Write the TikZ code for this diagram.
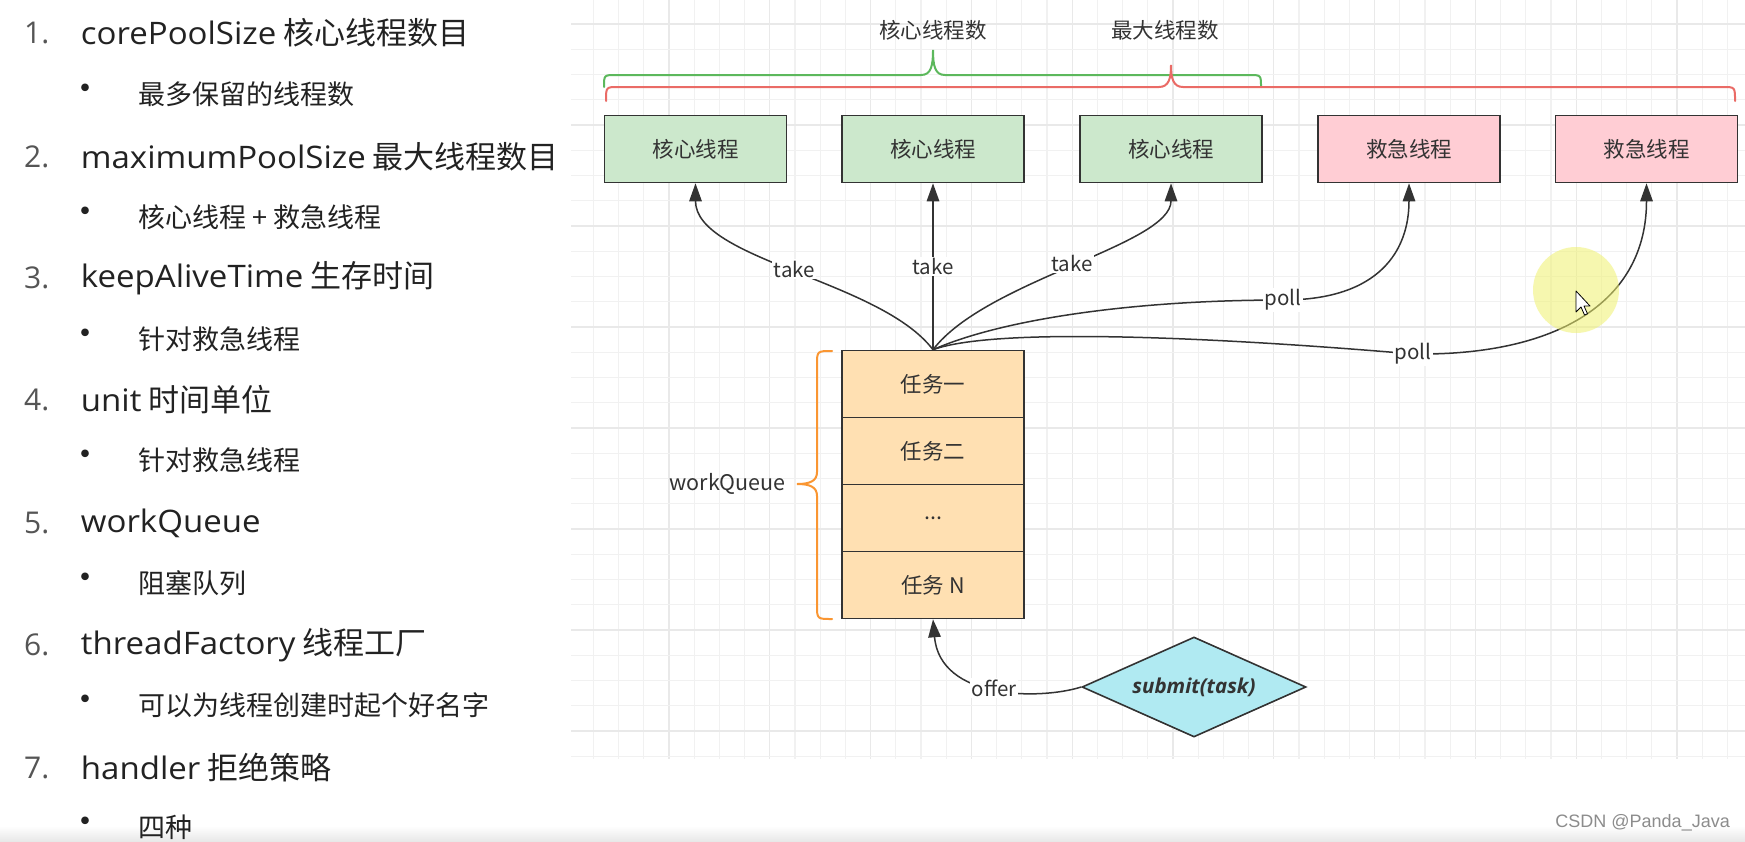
\documentclass[tikz,border=0pt]{standalone}
\usepackage{fontspec}
\setmainfont{Noto Sans CJK SC}
\newfontfamily\subfont{Open Sans}
\newfontfamily\latf[FakeStretch=1.065]{Open Sans}
\newfontfamily\wmfont{Liberation Sans}
\usetikzlibrary{shapes.geometric,arrows.meta}
\definecolor{txt}{HTML}{333333}
\definecolor{listtxt}{HTML}{222222}
\definecolor{numtxt}{HTML}{555555}
\definecolor{strokec}{HTML}{333333}
\definecolor{greenfill}{RGB}{204,232,204}
\definecolor{pinkfill}{RGB}{255,205,212}
\definecolor{orangefill}{RGB}{255,224,178}
\definecolor{cyanfill}{RGB}{176,234,242}
\definecolor{gridminor}{HTML}{F1F1F1}
\definecolor{gridmajor}{HTML}{E9E9E9}
\definecolor{bracegreen}{RGB}{92,184,92}
\definecolor{bracered}{RGB}{234,107,102}
\definecolor{braceorange}{RGB}{250,150,50}
\definecolor{hilite}{RGB}{240,242,110}
\tikzset{
  gbox/.style={draw=strokec,line width=1.6pt,fill=greenfill,minimum width=182pt,minimum height=67pt,inner sep=0pt,text=txt,font=\fontsize{21.5}{24}\selectfont},
  pbox/.style={gbox,fill=pinkfill},
  qcell/.style={gbox,fill=orangefill},
  edge/.style={draw=strokec,line width=1.5pt,-{Triangle[length=18pt,width=12.5pt]}},
  elab/.style={fill=white,inner sep=1.5pt,text=txt,font=\fontsize{20.5}{22}\selectfont},
  blab/.style={text=txt,font=\fontsize{21.5}{24}\selectfont,inner sep=0pt},
  numtext/.style={anchor=west,text=numtxt,font=\subfont\fontsize{30}{34}\selectfont,inner sep=0pt},
  maintext/.style={anchor=west,text=listtxt,font=\fontsize{31}{34}\selectfont,inner sep=0pt},
  bullettext/.style={text=listtxt,font=\fontsize{36}{38}\selectfont,inner sep=0pt},
  subtext/.style={anchor=west,text=listtxt,font=\fontsize{27}{30}\selectfont,inner sep=0pt},
  brace/.style={line width=2pt,line cap=round}
}
\begin{document}
\begin{tikzpicture}[x=1pt,y=-1pt]
\useasboundingbox (0,0) rectangle (1745,841);
\fill[white] (0,0) rectangle (1745,841);
% grid
\foreach \k in {0,...,45}{
  \pgfmathsetmacro\xx{593.4+25.2*\k}
  \pgfmathtruncatemacro\m{mod(\k+1,4)}
  \ifnum\m=0
    \draw[gridmajor,line width=1.3pt] (\xx,0) -- (\xx,759);
  \else
    \draw[gridminor,line width=1.3pt] (\xx,0) -- (\xx,759);
  \fi
}
\foreach \k in {0,...,29}{
  \pgfmathsetmacro\yy{24+25.25*\k}
  \pgfmathtruncatemacro\m{mod(\k,4)}
  \ifnum\m=0
    \draw[gridmajor,line width=1.3pt] (571,\yy) -- (1745,\yy);
  \else
    \draw[gridminor,line width=1.3pt] (571,\yy) -- (1745,\yy);
  \fi
}
\shade[top color=white,bottom color=black!9] (0,826) rectangle (1745,841);

% left list
\node[numtext] (n1) at (24,33) {1.};
\node[maintext] (t1) at (80.7,33) {{\latf corePoolSize} 核心线程数目};
\node[bullettext] (d1) at (85,93) {•};
\node[subtext] (s1) at (138,94) {最多保留的线程数};
\node[numtext] (n2) at (24,157) {2.};
\node[maintext] (t2) at (80.7,157) {{\latf maximumPoolSize} 最大线程数目};
\node[bullettext] (d2) at (85,216) {•};
\node[subtext] (s2) at (138,217) {核心线程 + 救急线程};
\node[numtext] (n3) at (24,278) {3.};
\node[maintext] (t3) at (80.7,278) {{\latf keepAliveTime} 生存时间};
\node[bullettext] (d3) at (85,338) {•};
\node[subtext] (s3) at (138,339) {针对救急线程};
\node[numtext] (n4) at (24,400) {4.};
\node[maintext] (t4) at (80.7,400) {{\latf unit} 时间单位};
\node[bullettext] (d4) at (85,459) {•};
\node[subtext] (s4) at (138,460) {针对救急线程};
\node[numtext] (n5) at (24,523) {5.};
\node[maintext] (t5) at (80.7,523) {{\latf workQueue}};
\node[bullettext] (d5) at (85,582) {•};
\node[subtext] (s5) at (138,583) {阻塞队列};
\node[numtext] (n6) at (24,645) {6.};
\node[maintext] (t6) at (80.7,645) {{\latf threadFactory} 线程工厂};
\node[bullettext] (d6) at (85,704) {•};
\node[subtext] (s6) at (138,705) {可以为线程创建时起个好名字};
\node[numtext] (n7) at (24,768) {7.};
\node[maintext] (t7) at (80.7,768) {{\latf handler} 拒绝策略};
\node[bullettext] (d7) at (85,826) {•};
\node[subtext] (s7) at (138,827) {四种};

% braces on top
\draw[brace,bracegreen] (604,87) .. controls (604,75) .. (616,75) -- (921,75)
  .. controls (931,75) and (933,66) .. (933,50)
  .. controls (933,66) and (935,75) .. (945,75) -- (1249,75)
  .. controls (1261,75) .. (1261,87);
\draw[brace,bracered] (606,101) .. controls (606,87) .. (618,87) -- (1159,87)
  .. controls (1169,87) and (1171,78) .. (1171,65)
  .. controls (1171,78) and (1173,87) .. (1183,87) -- (1723,87)
  .. controls (1735,87) .. (1735,101);
\node[blab] (lcore) at (933,30) {核心线程数};
\node[blab] (lmax) at (1165,30) {最大线程数};

% thread boxes
\node[gbox] (b1) at (695.5,149) {核心线程};
\node[gbox] (b2) at (933,149) {核心线程};
\node[gbox] (b3) at (1171,149) {核心线程};
\node[pbox] (b4) at (1409,149) {救急线程};
\node[pbox] (b5) at (1646.5,149) {救急线程};

% queue
\node[qcell] (q1) at (933,384) {任务一};
\node[qcell] (q2) at (933,451) {任务二};
\node[qcell] (q3) at (933,518) {...};
\node[qcell] (q4) at (933,585) {任务 N};
\draw[brace,braceorange] (832,351) .. controls (817,351) .. (817,365) -- (817,472)
  .. controls (817,481) and (810,484) .. (797,484)
  .. controls (810,484) and (817,487) .. (817,496) -- (817,605)
  .. controls (817,619) .. (832,619);
\node[blab,anchor=east] (lwq) at (786,484) {workQueue};

% submit diamond
\node[diamond,draw=strokec,line width=1.6pt,fill=cyanfill,aspect=2.24,minimum width=224pt,minimum height=100pt,inner sep=0pt,text=txt,font=\subfont\bfseries\itshape\fontsize{20.5}{22}\selectfont] (sub) at (1194,687) {submit(task)};

% connectors
\draw[edge] (q1.north) .. controls (880,280) and (695.5,260) .. node[elab]{take} (b1.south);
\draw[edge] (q1.north) -- node[elab,pos=0.5]{take} (b2.south);
\draw[edge] (q1.north) .. controls (986,280) and (1171,245) .. node[elab]{take} (b3.south);
\draw[edge] (q1.north) .. controls (1000,320) and (1130,300) .. (1283,300) node[elab]{poll}
  .. controls (1380,300) and (1409,250) .. (b4.south);
\draw[edge] (q1.north) .. controls (1000,325) and (1250,340) .. (1413,354) node[elab]{poll}
  .. controls (1560,356) and (1646.5,300) .. (b5.south);
\draw[edge] (sub.west) .. controls (1040,700) and (940,700) .. node[elab]{offer} (q4.south);

% cursor highlight
\fill[hilite,opacity=0.55] (1576,290) circle (43);
\draw[black,line width=0.8pt,fill=white,line join=round] (1576,291) -- (1576,312) -- (1581,307) -- (1584.5,315) -- (1587.5,313.8) -- (1584,306) -- (1590,306) -- cycle;

% watermark
\node[anchor=east,text=black!45,font=\wmfont\fontsize{18}{20}\selectfont,inner sep=0pt] (wm) at (1730,823) {CSDN @Panda\_Java};
\end{tikzpicture}
\end{document}
